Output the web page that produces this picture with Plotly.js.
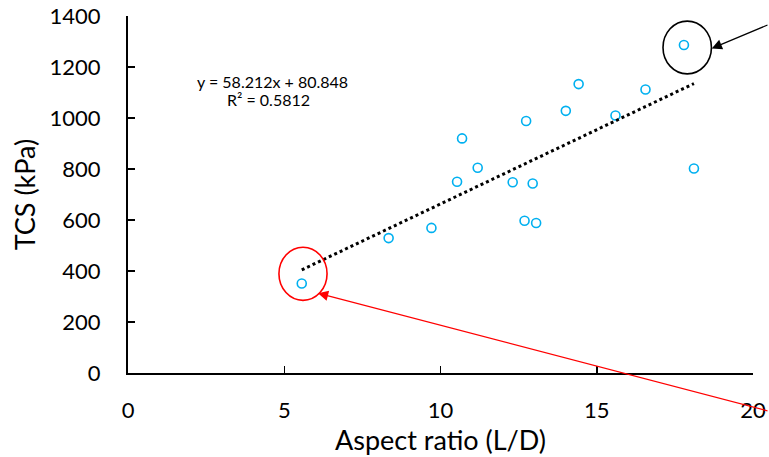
<!DOCTYPE html>
<html>
<head>
<meta charset="utf-8">
<script src="https://cdn.plot.ly/plotly-3.0.1.min.js"></script>
<style>html,body{margin:0;padding:0;background:#fff;}#chart{width:769px;height:457px;}</style>
</head>
<body>
<div id="chart"></div>
<script>
// Data
const aspectRatio = [5.56, 8.34, 9.71, 10.53, 10.69, 11.19, 12.31, 12.95, 12.69, 13.06, 12.74, 14.01, 15.60, 16.56, 18.11, 17.79, 14.42];
const tcs = [351, 529, 569, 750, 920, 805, 748, 743, 597, 588, 988, 1028, 1010, 1112, 802, 1286, 1133];
const trendSlope = 58.212;
const trendIntercept = 80.848;
const xTicks = [0, 5, 10, 15, 20];
const yTicks = [0, 200, 400, 600, 800, 1000, 1200, 1400];
const eqLine1 = 'y = 58.212x + 80.848';
const eqLine2 = 'R² = 0.5812';

const xMin = Math.min(...aspectRatio), xMax = Math.max(...aspectRatio);
const trendX = [xMin, xMax];
const trendY = trendX.map(v => trendSlope * v + trendIntercept);

const font = "Lato, 'Open Sans', sans-serif";

// plot area in pixels: x 128..753, y 16..373
const PL = 128, PW = 625, PT = 16, PH = 357;
const px = v => (v - PL) / PW;
const py = v => (PT + PH - v) / PH;

const data = [
  {
    x: aspectRatio, y: tcs, type: 'scatter', mode: 'markers',
    marker: {symbol: 'circle-open', size: 9, color: '#00B0F0', line: {width: 1.6, color: '#00B0F0'}},
    hoverinfo: 'x+y', showlegend: false
  },
  {
    x: trendX, y: trendY, type: 'scatter', mode: 'lines',
    line: {color: '#000000', width: 3, dash: 'dot'},
    showlegend: false, hoverinfo: 'skip'
  }
];

const layout = {
  width: 769, height: 457,
  margin: {l: PL, r: 769 - PL - PW, t: PT, b: 457 - PT - PH},
  paper_bgcolor: '#ffffff', plot_bgcolor: '#ffffff',
  font: {family: font, color: '#000000'},
  xaxis: {
    range: [0, 20], tickvals: xTicks, ticktext: xTicks.map(String),
    showgrid: false, zeroline: false, showline: true, linecolor: '#000', linewidth: 2,
    ticks: 'inside', ticklen: 7, tickwidth: 1.5, tickcolor: '#000',
    tickfont: {size: 22, family: font}, ticklabelstandoff: 17,
    title: {text: 'Aspect ratio (L/D)', font: {size: 27, family: font}, standoff: 0}
  },
  yaxis: {
    range: [0, 1400], tickvals: yTicks, ticktext: yTicks.map(String),
    showgrid: false, zeroline: false, showline: true, linecolor: '#000', linewidth: 2,
    ticks: 'inside', ticklen: 7, tickwidth: 1.5, tickcolor: '#000',
    tickfont: {size: 22, family: font}, ticklabelstandoff: 21,
    title: {text: 'TCS (kPa)', font: {size: 27, family: font}, standoff: 6}
  },
  shapes: [
    {type: 'circle', xref: 'x', yref: 'y', x0: 4.83, x1: 6.37, y0: 285, y1: 493,
     line: {color: '#FF0000', width: 1.6}},
    {type: 'circle', xref: 'x', yref: 'y', x0: 17.12, x1: 18.67, y0: 1173, y1: 1380,
     line: {color: '#000000', width: 1.6}}
  ],
  annotations: [
    {xref: 'paper', yref: 'paper', x: px(272), y: py(81.7), xanchor: 'center', yanchor: 'middle',
     text: eqLine1, showarrow: false, font: {size: 16, family: font, color: '#000'}},
    {xref: 'paper', yref: 'paper', x: px(268), y: py(99.5), xanchor: 'center', yanchor: 'middle',
     text: eqLine2, showarrow: false, font: {size: 16, family: font, color: '#000'}},
    {x: 6.08, y: 313, xref: 'x', yref: 'y', showarrow: true, ax: 460, ay: 118,
     arrowcolor: '#FF0000', arrowwidth: 1.2, arrowhead: 2, arrowsize: 1.7, text: ''},
    {x: 18.68, y: 1273, xref: 'x', yref: 'y', showarrow: true, ax: 70, ay: -24,
     arrowcolor: '#000000', arrowwidth: 1.2, arrowhead: 2, arrowsize: 1.7, text: ''}
  ]
};

Plotly.newPlot('chart', data, layout, {displayModeBar: false, staticPlot: true});
</script>
</body>
</html>
